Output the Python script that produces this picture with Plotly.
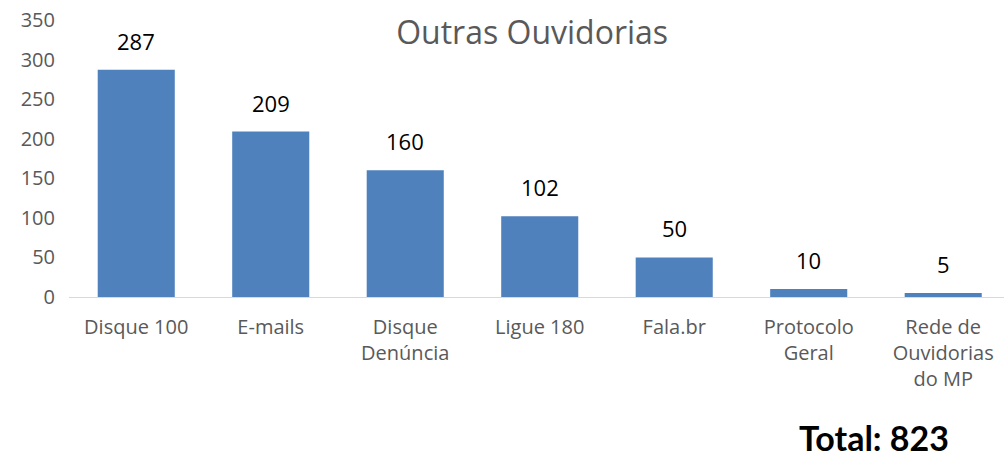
import plotly.graph_objects as go

categories = ["Disque 100", "E-mails", "Disque<br>Denúncia", "Ligue 180",
              "Fala.br", "Protocolo<br>Geral", "Rede de<br>Ouvidorias<br>do MP"]
values = [287, 209, 160, 102, 50, 10, 5]
total = sum(values)

fig = go.Figure(go.Bar(
    x=categories,
    y=values,
    marker=dict(color="#4F81BD", line=dict(width=0)),
))

# value labels above each bar
for c, v in zip(categories, values):
    fig.add_annotation(x=c, y=v, text=str(v), showarrow=False,
                       yanchor="middle", yshift=29,
                       font=dict(family="Open Sans", size=22, color="#000000"))

fig.update_layout(
    width=1004, height=457,
    margin=dict(l=69, r=0, t=20, b=160),
    paper_bgcolor="white", plot_bgcolor="white",
    bargap=0.427,
    showlegend=False,
    font=dict(family="Open Sans", color="#595959"),
    title=dict(text="Outras Ouvidorias", x=0.53, xanchor="center",
               y=0.928, yanchor="middle",
               font=dict(family="Open Sans", size=32, color="#595959")),
    # the original plot area runs a bit past the right edge of the image
    xaxis=dict(range=[-0.5, 6.452], showgrid=False, showline=True, linecolor="#D9D9D9",
               linewidth=1, ticks="", tickfont=dict(size=20, color="#595959"),
               ticklabelstandoff=12),
    yaxis=dict(range=[0, 350], dtick=50, showgrid=False, zeroline=False, showline=False,
               ticks="", tickfont=dict(size=20, color="#595959"), ticklabelstandoff=13),
)

fig.add_annotation(text=f"<b>Total: {total}</b>", xref="paper", yref="paper",
                   x=0.861, y=-0.509, xanchor="center", yanchor="middle", showarrow=False,
                   font=dict(family="Lato", size=34, color="#000000"))

fig.write_html("out.html", config={"displayModeBar": False},
               post_script="document.body.style.margin='0';")
